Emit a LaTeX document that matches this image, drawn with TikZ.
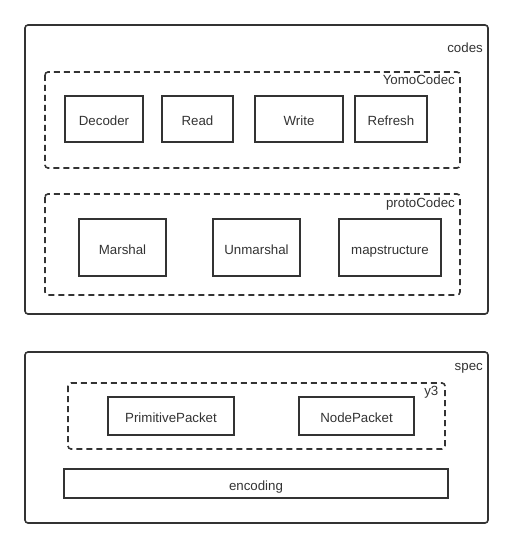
\documentclass[tikz,border=0pt]{standalone}
\usepackage{fontspec}
\setmainfont{Liberation Sans}
\begin{document}
\begin{tikzpicture}[x=1pt,y=-1pt,
  ln/.style={draw=black!80,line width=1.6pt},
  outer/.style={ln,rounded corners=3pt},
  group/.style={ln,dash pattern=on 6pt off 4pt,rounded corners=3pt},
  item/.style={ln},
  txt/.style={text=black!80,font=\fontsize{13.3}{15}\selectfont,inner sep=0pt,text height=13pt,text depth=0pt},
  lbl/.style={text=black!80,font=\fontsize{13.3}{15}\selectfont,inner sep=0pt,anchor=base east}]
\useasboundingbox (0,0) rectangle (513,548);
% codes
\draw[outer] (25,25) rectangle (488,314);
\node[lbl] (codes) at (483,52.3) {codes};
\draw[group] (45,72) rectangle (460,168);
\node[lbl] (yomo) at (455,85) {YomoCodec};
\draw[item] (65,96) rectangle (143,142); \node[txt] (dec) at (104,119) {Decoder};
\draw[item] (162,96) rectangle (233,142); \node[txt] (read) at (197.5,119) {Read};
\draw[item] (255,96) rectangle (343,142); \node[txt] (write) at (299,119) {Write};
\draw[item] (355,96) rectangle (427,142); \node[txt] (refresh) at (391,119) {Refresh};
\draw[group] (45,194) rectangle (460,295);
\node[lbl] (proto) at (455,207.5) {protoCodec};
\draw[item] (79,219) rectangle (166,276); \node[txt] (marshal) at (122.5,247.5) {Marshal};
\draw[item] (213,219) rectangle (300,276); \node[txt] (unmarshal) at (256.5,247.5) {Unmarshal};
\draw[item] (339,219) rectangle (441,276); \node[txt] (map) at (390,247.5) {mapstructure};
% spec
\draw[outer] (25,352) rectangle (488,523);
\node[lbl] (spec) at (483,370.7) {spec};
\draw[group] (68,383) rectangle (445,449);
\node[lbl] (y3) at (438.5,395) {y3};
\draw[item] (108,397) rectangle (234,435); \node[txt] (prim) at (171,416) {PrimitivePacket};
\draw[item] (299,397) rectangle (414,435); \node[txt] (nodep) at (356.5,416) {NodePacket};
\draw[item] (64,469) rectangle (448,498); \node[txt] (enc) at (256,483.5) {encoding};
\end{tikzpicture}
\end{document}
